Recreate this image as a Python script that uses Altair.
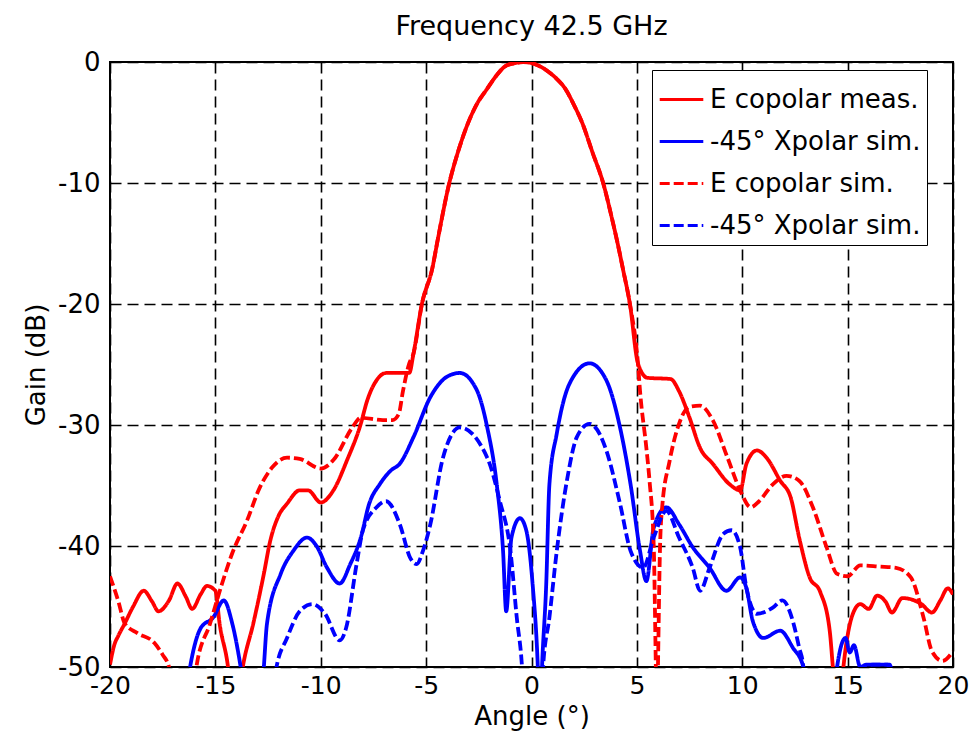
import altair as alt
import pandas as pd

# ---------------- data ----------------
meas_x = [-20, -19.8, -19.6, -19.3, -18.9, -18.4, -18.0, -17.7, -17.2, -16.8, -16.4, -16.1,
          -15.7, -15.4, -15.0, -14.8, -14.4, -14.1, -13.7, -13.2, -12.7, -12.4, -12.0, -11.6,
          -11.0, -10.6, -10.0, -9.4, -8.75, -8.1, -7.8, -7.35, -6.9, -5.8, -5.6, -5.2, -4.7, -4.45,
          -3.9, -3.5, -3.0, -2.6, -2.1, -1.7, -1.2, -0.8, -0.4, 0.2, 0.8, 1.2, 1.6, 2.0, 2.4, 2.9,
          3.4, 3.8, 4.05, 4.35, 4.67, 5.05, 5.5, 6.6,
          7.0, 7.5, 8.0, 8.6, 9.4, 9.9, 10.2, 10.7, 11.15, 11.8, 12.3, 12.7, 13.2, 13.7, 14.15,
          14.3, 14.55, 14.8, 15.25, 15.6, 16.0, 16.4, 16.8, 17.1, 17.6, 18.0, 18.5, 19.0, 19.4,
          19.75, 20]
meas_y = [-49.8, -48.2, -47.4, -46.4, -45.0, -43.7, -44.6, -45.4, -44.5, -43.1, -44.2, -45.2,
          -44.0, -43.3, -43.7, -46.4, -50, -55, -50, -46.4, -42.3, -39.6, -37.5, -36.5,
          -35.4, -35.4, -36.4, -35.4, -32.9, -29.9, -28.0, -26.3, -25.7, -25.7, -24.1, -20, -17.0, -14.7,
          -10, -7.5, -5, -3.5, -2.2, -1.2, -0.3, -0.1, 0, -0.2, -0.8, -1.4, -2.2, -3.5, -5, -7.5,
          -10, -12.8, -14.7, -17.2, -20, -24.9, -26.1, -26.2,
          -27.2, -29.4, -31.9, -33.2, -34.9, -35.4, -33.2, -32.1, -32.7, -34.6, -36, -39.3, -42.6, -43.8, -47,
          -50, -55, -50, -45.6, -44.8, -45.2, -44.1, -44.6, -45.5, -44.3, -44.4, -44.8, -45.5, -44.5,
          -43.5, -44]

xsim_x = [-16.6, -16.2, -15.7, -15.1, -14.6, -14.2, -13.8, -13.4, -12.9, -12.7, -12.55, -11.9,
          -11.3, -10.65, -10.2, -9.7, -9.1, -8.6, -8.1, -7.7, -7.2, -6.7, -6.25, -5.6, -4.8, -4.0,
          -3.4, -2.6, -2.1, -1.65, -1.35, -1.2, -0.95, -0.55, -0.25, 0.05, 0.3, 0.4, 0.5, 0.7,
          0.85, 1.2, 1.8, 2.75, 3.55, 4.2, 4.7, 5.15, 5.45, 5.8, 6.4, 7.0, 7.65, 8.45, 9.25, 9.9,
          10.2, 10.5, 11.0, 11.8, 12.4, 12.9, 13.2, 14.2, 14.5, 14.9, 15.1, 15.3, 15.6, 15.9,
          16.4, 16.9, 17.2]
xsim_y = [-55, -50, -46.8, -45.9, -44.5, -46.4, -50, -55, -55, -50, -46.4, -42.3,
          -40.4, -39.3, -40.0, -41.8, -43.1, -41.5, -39.3, -36.5, -34.9, -33.8, -33.2, -31.0, -27.7, -26.0,
          -25.7, -27.1, -30.2, -34.9, -40.4, -45.4, -39.3, -37.7, -38.7, -43.1, -50, -55, -50, -43.1,
          -34.9, -30.7, -26.6, -24.9, -26.3, -30.2, -34.9, -40.4, -42.9, -38.5, -36.8, -38.2, -40.1, -41.8, -43.7, -42.6,
          -43.5, -46.2, -47.6, -47.0, -48.4, -50, -55, -55, -50, -47.6, -48.8, -48.2, -50, -49.8,
          -49.8, -49.8, -55]

csim_x = [-20, -19.6, -19.3, -18.7, -17.9, -17.5, -17.2, -16.9, -16.2, -15.9, -15.25, -14.7,
          -14.2, -13.5, -12.9, -12.3, -11.6, -11.0, -10.0, -9.4, -8.5, -8.1, -7.05, -6.6, -6.3,
          -6.1, -5.8, -5.6, -5.2, -4.7, -4.45, -3.9, -3.5, -3.0, -2.6, -2.1, -1.7, -1.2, -0.8, -0.4,
          0.2, 0.8, 1.2, 1.6, 2.0, 2.4, 2.9, 3.4, 3.8,
          4.05, 4.35, 4.67, 5.05, 5.15, 5.45, 5.6, 5.8, 5.9, 5.95, 6.0, 6.1, 6.2, 6.55, 7.0, 7.5, 8.0,
          8.6, 9.3, 9.9, 10.4, 10.8, 11.45, 12.1, 12.7, 13.35, 14.0, 14.5, 15.0, 15.6, 16.5, 17.3,
          18.0, 18.6, 19.0, 19.5, 20]
csim_y = [-42.5, -44.6, -46.4, -47.2, -48.0, -49.0, -50, -55, -55, -50, -46.4, -43.2,
          -40.6, -37.9, -35.2, -33.5, -32.7, -32.8, -33.6, -32.9, -30.2, -29.4, -29.6, -29.6, -29.1,
          -27.2, -24.9, -24.1, -20, -17.0, -14.7, -10, -7.5, -5, -3.5, -2.2, -1.2, -0.3, -0.1, 0,
          -0.2, -0.8, -1.4, -2.2, -3.5, -5, -7.5, -10, -12.8,
          -14.7, -17.2, -20, -24.9, -27.2, -31.9, -34.6, -40, -50, -55, -50, -40, -36.8, -33.0, -29.9, -28.5, -28.4,
          -29.6, -32.7, -35.4, -36.8, -36.3, -34.9, -34.2, -34.6, -36.8, -40.1, -42.3, -42.5, -41.6, -41.7, -41.8,
          -42.6, -45.9, -48.7, -49.5, -48.7]

xsim2_x = [-12.5, -12.1, -11.6, -11.0, -10.4, -9.8, -9.1, -8.8, -8.3, -8.0, -7.35, -6.9, -6.25,
           -5.75, -5.45, -5.15, -4.8, -4.2, -3.4, -2.1, -1.5, -1.0, -0.7, -0.45, -0.3, 0.4, 0.55,
           0.85, 1.2, 1.7, 2.15, 2.75, 3.25, 3.55, 4.2, 4.7, 5.3, 5.8, 6.4, 7.0, 7.65, 8.0, 8.45,
           9.1, 9.5, 9.9, 10.2, 10.7, 11.45, 11.9, 12.4, 12.7, 12.9, 13.1, 15.5, 15.8, 16.2, 17.0, 17.3]
xsim2_y = [-55, -50, -47.6, -45.4, -44.8, -45.6, -47.8, -46.8, -41.5, -38.7, -36.8, -36.3, -38.2,
           -41.0, -41.5, -40.4, -38.2, -32.7, -30.2, -32.7, -36.3, -40.4, -45.9, -50, -55, -55, -50,
           -45.9, -40.4, -34.4, -31.0, -29.9, -30.8, -32.1, -36.5, -40.4, -41.8, -39.3, -37.1, -39.3, -41.8, -43.7, -41.8,
           -39.0, -38.7, -40.1, -43.5, -45.6, -45.1, -44.5, -46.2, -48.4, -50, -55, -55, -50, -49.8, -49.8, -55]

names = ["E copolar meas.", "-45° Xpolar sim.", "E copolar sim.", "-45° Xpolar sim. "]
series = [(names[0], meas_x, meas_y), (names[1], xsim_x, xsim_y),
          (names[2], csim_x, csim_y), (names[3], xsim2_x, xsim2_y)]

rows = []
for name, xs, ys in series:
    for i, (a, g) in enumerate(zip(xs, ys)):
        rows.append({"angle": a, "gain": g, "series": name, "idx": i})
df = pd.DataFrame(rows)

FONT = "DejaVu Sans"
legend = alt.Legend(title=None, orient="none", legendX=542, legendY=8,
                    symbolType="stroke", symbolSize=1900, symbolStrokeWidth=3,
                    labelFontSize=26, labelFont=FONT, labelColor="black",
                    strokeColor="black", fillColor="white", padding=6,
                    rowPadding=5, labelOffset=5, labelLimit=400)

chart = alt.Chart(df).mark_line(clip=True, strokeWidth=3.8, interpolate="monotone").encode(
    x=alt.X("angle:Q", scale=alt.Scale(domain=[-20, 20], nice=False, zero=False),
            axis=alt.Axis(values=list(range(-20, 21, 5)), title="Angle (°)",
                          labelFlush=False, labelOverlap=False,
                          labelExpr="'' + datum.value")),
    y=alt.Y("gain:Q", scale=alt.Scale(domain=[-50, 0], nice=False, zero=False),
            axis=alt.Axis(values=[0, -10, -20, -30, -40, -50], title="Gain (dB)",
                          labelFlush=False, labelOverlap=False,
                          labelExpr="'' + datum.value")),
    color=alt.Color("series:N", scale=alt.Scale(domain=names,
                    range=["#ff0000", "#0000ff", "#ff0000", "#0000ff"]), legend=legend),
    strokeDash=alt.StrokeDash("series:N", scale=alt.Scale(domain=names,
                    range=[[1, 0], [1, 0], [10, 4], [10, 4]]), legend=legend),
    order=alt.Order("idx:Q"),
).properties(
    width=843, height=605,
    title=alt.TitleParams("Frequency 42.5 GHz", font=FONT, fontSize=27, fontWeight="normal",
                          color="black", offset=8),
    padding={"left": 110, "top": 62, "right": 19, "bottom": 77},
    autosize=alt.AutoSizeParams(type="none"),
).configure_view(
    stroke="black", strokeWidth=2
).configure_axis(
    grid=True, gridColor="black", gridDash=[11, 6], gridWidth=1.6, gridOpacity=1,
    domain=False, ticks=False, labelFont=FONT, labelFontSize=26, labelColor="black",
    titleFont=FONT, titleFontSize=26, titleFontWeight="normal", titleColor="black",
    labelPadding=10
).configure_axisX(titlePadding=5, labelPadding=6, labelFontSize=25).configure_axisY(titlePadding=8)

chart.save("out.html", embed_options={"renderer": "svg", "actions": False})
